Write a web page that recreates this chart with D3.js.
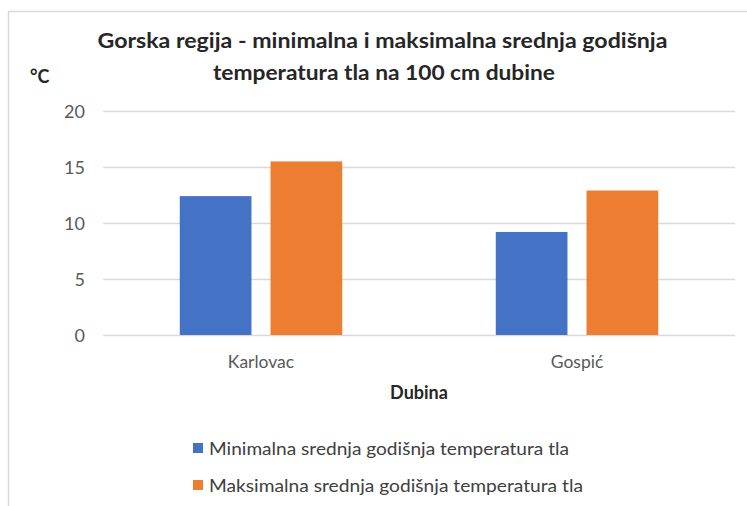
<!DOCTYPE html>
<html>
<head>
<meta charset="utf-8">
<script src="https://cdn.jsdelivr.net/npm/d3@7"></script>
<style>
  body { margin: 0; background: #fff; }
  text { font-family: Lato, "Open Sans", sans-serif; }
</style>
</head>
<body>
<div id="chart"></div>
<script>
// chart values
var cities = ['Karlovac', 'Gospić'];
var series = ['Minimalna srednja godišnja temperatura tla', 'Maksimalna srednja godišnja temperatura tla'];
var minTemp = [12.4, 9.2];
var maxTemp = [15.5, 12.9];
var yTicks = [0, 5, 10, 15, 20];
var colors = ['#4472c4', '#ed7d31'];

var width = 747, height = 506;
var margin = { top: 111, left: 103, bottom: 171, right: 12 };

var svg = d3.select('#chart').append('svg')
  .attr('width', width)
  .attr('height', height);

// chart frame (only top and left edges fall inside the picture)
svg.append('rect')
  .attr('x', 8.5).attr('y', 11.5)
  .attr('width', 760).attr('height', 520)
  .attr('fill', 'none')
  .attr('stroke', '#d9d9d9')
  .attr('stroke-width', 1.5);

var rows = cities.map(function (c, i) { return { city: c, vals: [minTemp[i], maxTemp[i]] }; });

var x0 = d3.scaleBand()
  .domain(cities)
  .range([margin.left, width - margin.right])
  .padding(0);

var x1 = d3.scaleBand()
  .domain(d3.range(series.length))
  .range([0, x0.bandwidth()])
  .paddingInner(0.21)
  .paddingOuter(0.846);

var y = d3.scaleLinear()
  .domain([0, 20])
  .range([height - margin.bottom, margin.top]);

var g = svg.append('g');

// gridlines + tick labels
var yAxis = g.append('g')
  .attr('transform', 'translate(' + margin.left + ',0)')
  .call(d3.axisLeft(y).tickValues(yTicks).tickSize(-(width - margin.left - margin.right)).tickPadding(18));
yAxis.select('.domain').remove();
yAxis.selectAll('.tick line').attr('stroke', '#d9d9d9').attr('stroke-width', 1.5);
yAxis.selectAll('.tick text')
  .attr('fill', '#595959')
  .attr('dy', '0.36em')
  .style('font-size', '18px');

// bars
g.append('g').selectAll('g')
  .data(rows)
  .enter()
  .append('g')
  .attr('transform', function (d) { return 'translate(' + x0(d.city) + ',0)'; })
  .selectAll('rect')
  .data(function (d) { return d.vals; })
  .enter()
  .append('rect')
  .attr('x', function (d, i) { return x1(i); })
  .attr('y', function (d) { return y(d); })
  .attr('width', x1.bandwidth())
  .attr('height', function (d) { return y(0) - y(d); })
  .attr('fill', function (d, i) { return colors[i]; });

// category labels
var xAxis = g.append('g')
  .attr('transform', 'translate(0,' + y(0) + ')')
  .call(d3.axisBottom(x0).tickSize(0).tickPadding(0));
xAxis.select('.domain').remove();
xAxis.selectAll('.tick text')
  .attr('fill', '#595959')
  .attr('dy', null)
  .attr('y', 33)
  .style('font-size', '17.5px');

// axis title
svg.append('text')
  .attr('x', (margin.left + width - margin.right) / 2)
  .attr('y', 399)
  .attr('text-anchor', 'middle')
  .attr('fill', '#262626')
  .style('font-size', '18px')
  .style('font-weight', 'bold')
  .text('Dubina');

svg.append('text')
  .attr('x', 30)
  .attr('y', 83)
  .attr('fill', '#262626')
  .style('font-size', '18px')
  .style('font-weight', 'bold')
  .text('°C');

// title
var title = svg.append('text')
  .attr('text-anchor', 'middle')
  .attr('fill', '#262626')
  .style('font-size', '21px')
  .style('font-weight', 'bold');
title.append('tspan').attr('x', 382.5).attr('y', 48)
  .attr('textLength', 570).attr('lengthAdjust', 'spacingAndGlyphs')
  .text('Gorska regija - minimalna  i maksimalna srednja godišnja');
title.append('tspan').attr('x', 384).attr('y', 80)
  .attr('textLength', 342).attr('lengthAdjust', 'spacingAndGlyphs')
  .text('temperatura tla na 100 cm dubine');

// legend
var legend = svg.append('g').selectAll('g')
  .data(series)
  .enter()
  .append('g')
  .attr('transform', function (d, i) { return 'translate(193,' + (443 + i * 37) + ')'; });
legend.append('rect')
  .attr('width', 10).attr('height', 10)
  .attr('fill', function (d, i) { return colors[i]; });
legend.append('text')
  .attr('x', 16)
  .attr('y', 12)
  .attr('fill', '#404040')
  .attr('textLength', function (d, i) { return i === 0 ? 360 : 374; })
  .attr('lengthAdjust', 'spacingAndGlyphs')
  .style('font-size', '18px')
  .text(function (d) { return d; });
</script>
</body>
</html>
